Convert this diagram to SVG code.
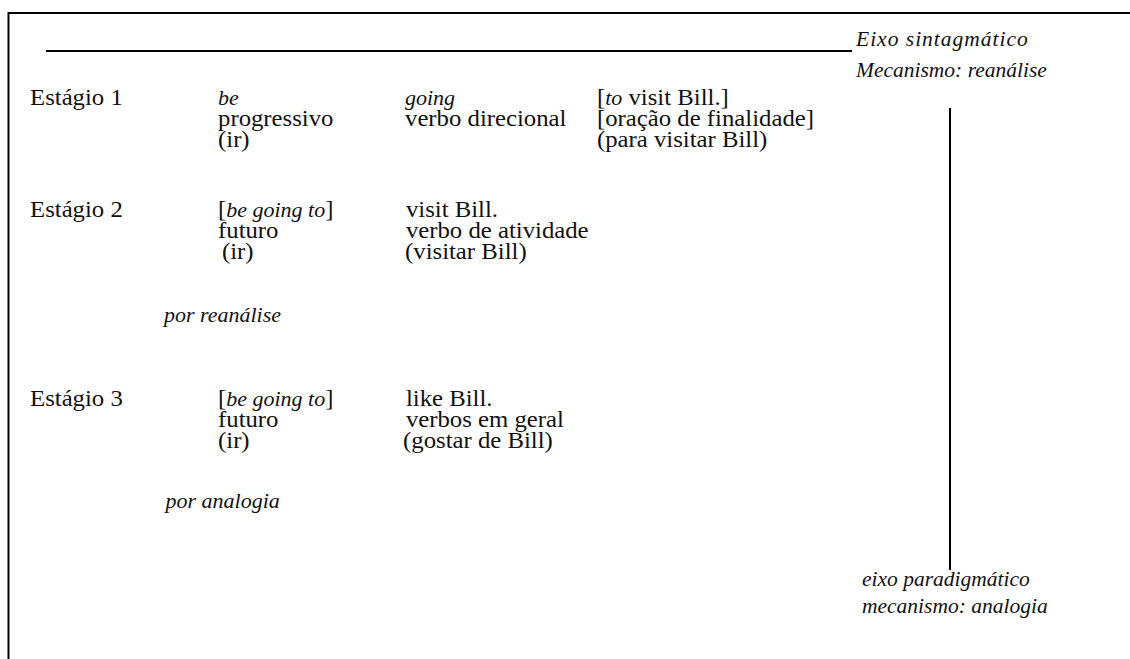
<svg xmlns="http://www.w3.org/2000/svg" width="1130" height="659" viewBox="0 0 1130 659">
<style>
text{font-family:'Liberation Serif','DejaVu Serif',serif;fill:#111}
.t{font-size:22.5px}
.i{font-style:italic;font-size:20px}
.ax{font-size:21.5px;font-style:italic}
.ln{stroke:#000;stroke-width:2;fill:none}
</style>
<rect width="1130" height="659" fill="#fff"/>
<g id="frame">
<line class="ln" x1="8" y1="13" x2="1130" y2="13" stroke-width="2.5"/>
<line class="ln" x1="8.5" y1="12" x2="8.5" y2="659"/>
</g>
<g id="connectors">
<line class="ln" x1="46" y1="51" x2="852" y2="51"/>
<line class="ln" x1="950" y1="108" x2="950" y2="570"/>
</g>
<g id="axis-sintagmatico">
<text class="ax" x="856" y="46" letter-spacing="1">Eixo sintagmático</text>
<text class="ax" x="856" y="77">Mecanismo: reanálise</text>
</g>
<g id="axis-paradigmatico">
<text class="ax" x="862" y="586">eixo paradigmático</text>
<text class="ax" x="862" y="613">mecanismo: analogia</text>
</g>
<g id="stage1" transform="scale(1.1,1)">
<text class="t" x="27.3" y="105">Estágio 1</text>
<text class="t i" x="198.2" y="105">be</text>
<text class="t" x="198.2" y="126">progressivo</text>
<text class="t" x="198.2" y="147">(ir)</text>
<text class="t i" x="368.2" y="105">going</text>
<text class="t" x="368.2" y="126">verbo direcional</text>
<text class="t" x="542.7" y="105">[<tspan class="i">to</tspan> visit Bill.]</text>
<text class="t" x="542.7" y="126">[oração de finalidade]</text>
<text class="t" x="542.7" y="147">(para visitar Bill)</text>
</g>
<g id="stage2" transform="scale(1.1,1)">
<text class="t" x="27.3" y="217">Estágio 2</text>
<text class="t" x="198.2" y="217">[<tspan class="i">be going to</tspan>]</text>
<text class="t" x="198.2" y="238">futuro</text>
<text class="t" x="201.8" y="259">(ir)</text>
<text class="t" x="369" y="217">visit Bill.</text>
<text class="t" x="369" y="238">verbo de atividade</text>
<text class="t" x="368.2" y="259">(visitar Bill)</text>
<text class="t i" x="149" y="322">por reanálise</text>
</g>
<g id="stage3" transform="scale(1.1,1)">
<text class="t" x="27.3" y="406">Estágio 3</text>
<text class="t" x="198.2" y="406">[<tspan class="i">be going to</tspan>]</text>
<text class="t" x="198.2" y="427">futuro</text>
<text class="t" x="198.2" y="448">(ir)</text>
<text class="t" x="369" y="406">like Bill.</text>
<text class="t" x="369" y="427">verbos em geral</text>
<text class="t" x="366.4" y="448">(gostar de Bill)</text>
<text class="t i" x="150.5" y="508">por analogia</text>
</g>
</svg>
